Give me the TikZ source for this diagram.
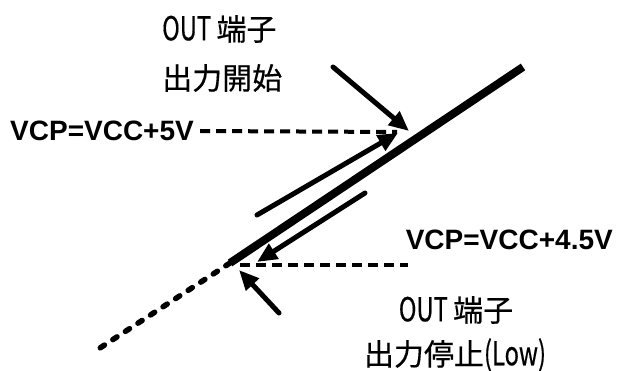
\documentclass[tikz,border=0pt]{standalone}
\usepackage{fontspec}
\setmainfont{Liberation Sans}
\newfontfamily\jp[FakeBold=0.4]{Noto Sans CJK JP}
\newfontfamily\jpcond[FakeStretch=0.72,FakeBold=0.4]{Noto Sans CJK JP}
\usetikzlibrary{arrows.meta}
\newcommand{\half}[1]{{\jpcond\fontsize{33}{33}\selectfont #1}}
\begin{document}
\begin{tikzpicture}[x=1pt,y=-1pt,
  arr/.style={line width=5pt, line cap=round, -{Triangle[length=20pt,width=17pt]}},
  thickline/.style={line width=8pt},
  hdash/.style={line width=4pt, dash pattern=on 10pt off 6pt},
  ddash/.style={line width=5.5pt, line cap=round, dash pattern=on 5pt off 10pt},
  vlabel/.style={inner sep=0pt, font=\bfseries\fontsize{28}{28}\selectfont},
  jlabel/.style={inner sep=0pt, font=\jp\fontsize{30}{30}\selectfont}]
\useasboundingbox (0,0) rectangle (617,371);
% main line
\coordinate (top) at (523,67);
\coordinate (bot) at (230,263);
\coordinate (dend) at (100,348);
\draw[thickline] (bot) -- (top);
\draw[ddash] (bot) -- (dend);
% labels
\node[jlabel, anchor=west] (t1) at (162,29) {\half{OUT }端子};
\node[jlabel, anchor=west] (t2) at (162,78) {出力開始};
\node[jlabel] (b1) at (456,310) {\half{OUT }端子};
\node[jlabel] (b2) at (455,355) {出力停止\half{(Low)}};
\node[vlabel, anchor=west] (v5) at (10,131) {VCP=VCC+5V};
\node[vlabel, anchor=east] (v45) at (613,240) {VCP=VCC+4.5V};
% dashed levels
\coordinate (c5) at (397,132);
\draw[hdash] ([xshift=6pt]v5.east) -- (c5);
\coordinate (d45a) at (240,265);
\coordinate (d45b) at (408,265);
\draw[hdash] (d45a) -- (d45b);
% arrows
\coordinate (a1s) at (333,67);
\coordinate (a1e) at (409,131);
\draw[arr] (a1s) -- (a1e);
\coordinate (a2s) at (257,215);
\coordinate (a2e) at (398,133);
\draw[arr] (a2s) -- (a2e);
\coordinate (a3s) at (365,193);
\coordinate (a3e) at (257,262);
\draw[arr] (a3s) -- (a3e);
\coordinate (a4s) at (279,313);
\coordinate (a4e) at (239,270);
\draw[arr] (a4s) -- (a4e);
\end{tikzpicture}
\end{document}
